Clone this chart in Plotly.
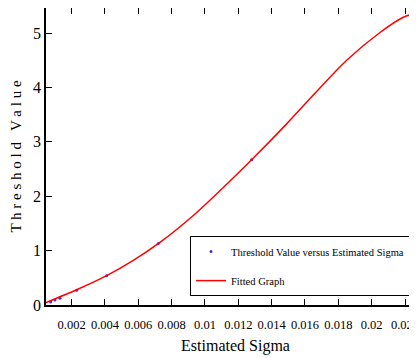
import plotly.graph_objects as go

# measured data points
sigma_pts = [0.00074, 0.0010, 0.0013, 0.0023, 0.0041, 0.0072, 0.0128]
thresh_pts = [0.055, 0.09, 0.124, 0.27, 0.54, 1.13, 2.67]

# fitted curve
sigma_fit = [0.00046, 0.0023, 0.0041, 0.0057, 0.0073, 0.0093, 0.0113, 0.0128,
             0.0149, 0.0165, 0.0185, 0.0205, 0.0219, 0.0227, 0.0232]
thresh_fit = [0.045, 0.28, 0.54, 0.82, 1.15, 1.645, 2.22, 2.67,
              3.33, 3.86, 4.50, 5.01, 5.29, 5.37, 5.41]

x_tickvals = [0.002, 0.004, 0.006, 0.008, 0.01, 0.012, 0.014, 0.016, 0.018, 0.02, 0.022]
x_ticktext = ["0.002", "0.004", "0.006", "0.008", "0.01", "0.012", "0.014",
              "0.016", "0.018", "0.02", "0.022"]
y_tickvals = [0, 1, 2, 3, 4, 5]

FONT = "Liberation Serif"

fig = go.Figure()
fig.add_trace(go.Scatter(
    x=sigma_pts, y=thresh_pts, mode="markers",
    marker=dict(size=3, color="#4b2fd0"),
    name="Threshold Value versus Estimated Sigma", legendgroup="a"))
fig.add_trace(go.Scatter(
    x=sigma_fit, y=thresh_fit, mode="lines",
    line=dict(color="#ff0000", width=1.5, shape="spline", smoothing=0.8),
    name="Fitted Graph", legendgroup="b"))

fig.update_layout(
    width=417, height=358,
    margin=dict(l=38, r=0, t=0, b=61, autoexpand=False),
    plot_bgcolor="white", paper_bgcolor="white",
    font=dict(family=FONT, size=13, color="black"),
    showlegend=True,
    legend=dict(x=0.38, y=0.232, xanchor="left", yanchor="top",
                bordercolor="black", borderwidth=1, bgcolor="white",
                font=dict(family=FONT, size=10.5), tracegroupgap=10,
                itemwidth=30),
    xaxis=dict(range=[0.000462, 0.0232], tickvals=x_tickvals, ticktext=x_ticktext,
               ticks="inside", ticklen=6, tickwidth=1, tickcolor="black", tickangle=0,
               showline=True, linecolor="black", linewidth=2, mirror="ticks",
               showgrid=False, zeroline=False, ticklabelstandoff=7,
               tickfont=dict(family=FONT, size=12.5),
               title=dict(text="Estimated Sigma", font=dict(family=FONT, size=16), standoff=9)),
    yaxis=dict(range=[0, 5.46], tickvals=y_tickvals,
               ticks="inside", ticklen=6, tickwidth=1, tickcolor="black",
               showline=True, linecolor="black", linewidth=1.5,
               showgrid=False, zeroline=False,
               tickfont=dict(family=FONT, size=16),
               title=dict(text="T h r e s h o l d   V a l u e", font=dict(family=FONT, size=15), standoff=12)),
)

fig.write_html("out.html")
